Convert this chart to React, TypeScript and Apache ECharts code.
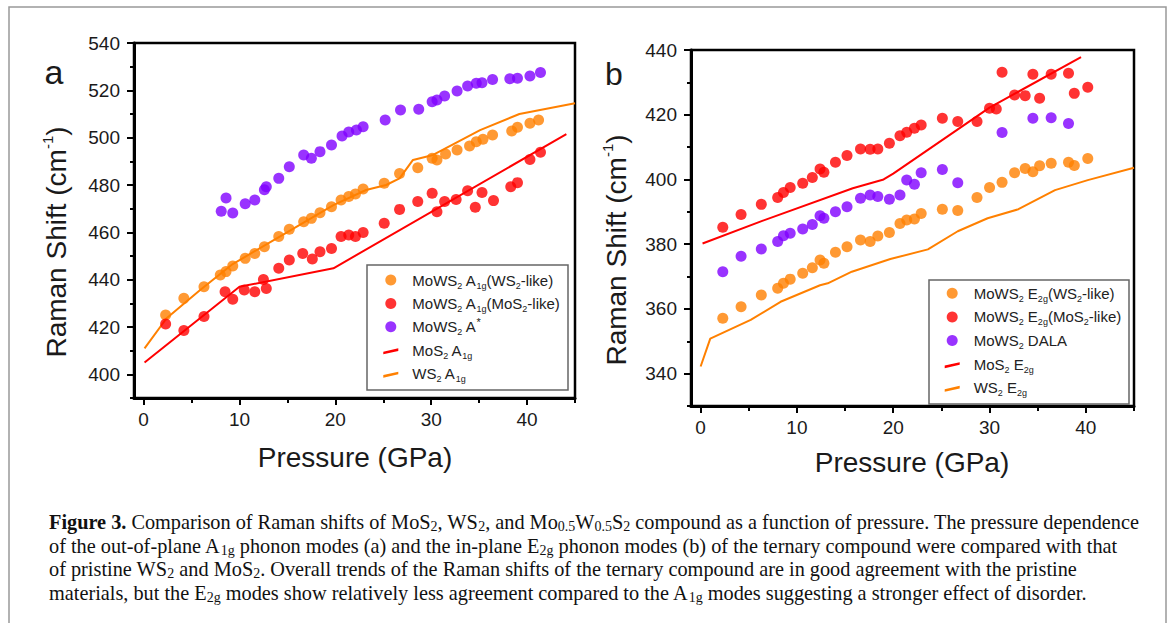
import React, { useEffect, useRef } from 'react';
import * as echarts from 'echarts';

// ---------- Panel (a): A1g modes ----------
const aWsLike: [number, number][] = [
  [2.3, 425.1], [4.2, 432.1], [6.3, 437.0], [8.0, 442.0], [8.6, 443.4], [9.3, 445.8], [10.6, 449.0],
  [11.6, 451.1], [12.6, 453.9], [14.1, 458.2], [15.2, 461.3], [16.7, 464.5], [17.5, 465.9], [18.4, 468.3],
  [19.6, 470.8], [20.6, 473.7], [21.4, 475.1], [22.1, 476.2], [22.9, 478.3], [25.1, 480.7], [26.7, 484.9],
  [28.6, 487.3], [30.1, 491.3], [30.6, 490.6], [31.5, 493.1], [32.7, 494.8], [34.0, 496.5], [34.7, 498.3],
  [35.4, 499.3], [36.4, 501.1], [38.4, 502.8], [39.0, 504.4], [40.3, 506.1], [41.2, 507.5],
];
const aMosLike: [number, number][] = [
  [2.3, 421.3], [4.2, 418.5], [6.3, 424.4], [8.5, 434.9], [9.3, 431.7], [10.5, 435.6], [11.6, 434.9],
  [12.5, 440.1], [12.8, 436.3], [14.1, 444.8], [15.2, 448.3], [16.6, 451.1], [17.6, 448.7], [18.4, 451.8],
  [19.6, 453.2], [20.6, 458.2], [21.4, 458.9], [22.1, 458.2], [22.9, 459.9], [25.1, 463.8], [26.7, 469.7],
  [28.6, 473.0], [30.1, 476.5], [30.6, 468.7], [31.4, 473.0], [32.6, 473.9], [33.8, 477.6], [34.6, 470.6],
  [35.3, 476.8], [36.5, 473.4], [38.3, 479.3], [39.0, 481.0], [40.3, 490.8], [41.4, 493.8],
];
const aAstar: [number, number][] = [
  [8.1, 468.9], [8.6, 474.5], [9.3, 468.2], [10.6, 472.1], [11.6, 473.7], [12.6, 478.0], [12.8, 479.3],
  [14.1, 482.8], [15.2, 487.7], [16.7, 492.7], [17.5, 491.3], [18.4, 494.1], [19.6, 496.9], [20.7, 500.7],
  [21.4, 502.4], [22.2, 503.2], [22.9, 504.6], [25.2, 507.5], [26.8, 511.7], [28.7, 512.0], [30.1, 515.2],
  [30.6, 515.9], [31.4, 517.6], [32.7, 519.7], [33.8, 521.8], [34.7, 523.0], [35.3, 523.2], [36.4, 524.6],
  [38.2, 524.9], [39.0, 525.1], [40.3, 526.1], [41.4, 527.5],
];
const aMoS2Line: [number, number][] = [[0.1, 405], [10, 437], [19.8, 444.8], [44.1, 501.5]];
const aWS2Line: [number, number][] = [
  [0.1, 411], [2.4, 423.7], [5.9, 435.6], [9.3, 446.6], [14.2, 458.2], [19.8, 471.5], [23.2, 477.9],
  [25.3, 480], [26.7, 482.8], [28.1, 490.6], [30.2, 492.7], [35.1, 503.2], [39.2, 510], [45, 514.5],
];

// ---------- Panel (b): E2g modes ----------
const bWsLike: [number, number][] = [
  [2.3, 357.1], [4.2, 360.7], [6.3, 364.3], [8.0, 366.4], [8.6, 367.9], [9.3, 369.2], [10.6, 371.0],
  [11.6, 372.7], [12.4, 375.1], [12.8, 374.1], [14.0, 377.5], [15.2, 379.2], [16.6, 381.3], [17.6, 380.8],
  [18.4, 382.5], [19.6, 383.6], [20.7, 386.4], [21.4, 387.5], [22.2, 387.8], [22.9, 389.5], [25.1, 390.8],
  [26.7, 390.4], [28.7, 394.4], [30.0, 397.5], [31.3, 399.1], [32.6, 402.1], [33.7, 403.4], [34.5, 402.4],
  [35.2, 404.2], [36.4, 405.0], [38.2, 405.3], [38.8, 404.3], [40.2, 406.5],
];
const bMosLike: [number, number][] = [
  [2.3, 385.2], [4.2, 389.2], [6.3, 392.3], [8.0, 394.4], [8.6, 396.0], [9.3, 397.5], [10.6, 398.8],
  [11.6, 400.6], [12.4, 403.2], [12.8, 402.2], [14.0, 405.3], [15.2, 407.4], [16.6, 409.4], [17.6, 409.3],
  [18.4, 409.4], [19.6, 411.2], [20.7, 413.5], [21.4, 414.6], [22.2, 415.8], [22.9, 416.8], [25.1, 418.9],
  [26.7, 417.9], [28.7, 417.9], [30.0, 422.0], [30.7, 421.8], [31.3, 433.1], [32.6, 426.1], [33.7, 425.9],
  [34.5, 432.5], [35.2, 425.1], [36.4, 432.5], [38.2, 432.8], [38.8, 426.6], [40.2, 428.5],
];
const bDala: [number, number][] = [
  [2.3, 371.5], [4.2, 376.3], [6.3, 378.5], [8.0, 380.8], [8.6, 382.6], [9.3, 383.4], [10.6, 384.7],
  [11.6, 386.1], [12.4, 388.8], [12.8, 388.0], [14.0, 390.0], [15.2, 391.6], [16.6, 394.2], [17.6, 395.2],
  [18.4, 394.7], [19.6, 393.9], [20.7, 395.2], [21.4, 399.8], [22.2, 398.5], [22.9, 402.1], [25.1, 403.1],
  [26.7, 399.0], [31.3, 414.5], [34.5, 418.9], [36.4, 419.1], [38.2, 417.3],
];
const bMoS2Line: [number, number][] = [
  [0.2, 380.2], [6.4, 387.2], [15.8, 397.3], [19, 400], [20, 401.8], [30, 422.2], [39.5, 437.8],
];
const bWS2Line: [number, number][] = [
  [0, 342.2], [1, 350.8], [5.2, 356.6], [8.3, 362.2], [12.4, 367.3], [13.2, 367.9], [15.7, 371.5],
  [19.7, 375.4], [23.6, 378.4], [26.7, 384], [29.8, 388], [33, 390.8], [36.8, 396.7], [40.2, 399.8], [45, 403.6],
];

// ---------- Ticks ----------
const xMajorTicks = [0, 10, 20, 30, 40];
const xMinorTicks = [5, 15, 25, 35, 45];
const aYMajor = [400, 420, 440, 460, 480, 500, 520, 540];
const aYMinor = [390, 410, 430, 450, 470, 490, 510, 530];
const bYMajor = [340, 360, 380, 400, 420, 440];
const bYMinor = [330, 350, 370, 390, 410, 430];

// ---------- Names ----------
const namesA = ['MoWS2 A1g(WS2-like)', 'MoWS2 A1g(MoS2-like)', 'MoWS2 A*', 'MoS2 A1g', 'WS2 A1g'];
const namesB = ['MoWS2 E2g(WS2-like)', 'MoWS2 E2g(MoS2-like)', 'MoWS2 DALA', 'MoS2 E2g', 'WS2 E2g'];
const richNames: Record<string, string> = {
  'MoWS2 A1g(WS2-like)': '{t|MoWS}{s|2}{t| A}{s|1g}{t|(WS}{s|2}{t|-like)}',
  'MoWS2 A1g(MoS2-like)': '{t|MoWS}{s|2}{t| A}{s|1g}{t|(MoS}{s|2}{t|-like)}',
  'MoWS2 A*': '{t|MoWS}{s|2}{t| A}{p|*}',
  'MoS2 A1g': '{t|MoS}{s|2}{t| A}{s|1g}',
  'WS2 A1g': '{t|WS}{s|2}{t| A}{s|1g}',
  'MoWS2 E2g(WS2-like)': '{t|MoWS}{s|2}{t| E}{s|2g}{t|(WS}{s|2}{t|-like)}',
  'MoWS2 E2g(MoS2-like)': '{t|MoWS}{s|2}{t| E}{s|2g}{t|(MoS}{s|2}{t|-like)}',
  'MoWS2 DALA': '{t|MoWS}{s|2}{t| DALA}',
  'MoS2 E2g': '{t|MoS}{s|2}{t| E}{s|2g}',
  'WS2 E2g': '{t|WS}{s|2}{t| E}{s|2g}',
};

const captionLines = [
  '{b|Figure 3.}{n| Comparison of Raman shifts of MoS}{s|2}{n|, WS}{s|2}{n|, and Mo}{s|0.5}{n|W}{s|0.5}{n|S}{s|2}{n| compound as a function of pressure. The pressure dependence}',
  '{n|of the out-of-plane A}{s|1g}{n| phonon modes (a) and the in-plane E}{s|2g}{n| phonon modes (b) of the ternary compound were compared with that}',
  '{n|of pristine WS}{s|2}{n| and MoS}{s|2}{n|. Overall trends of the Raman shifts of the ternary compound are in good agreement with the pristine}',
  '{n|materials, but the E}{s|2g}{n| modes show relatively less agreement compared to the A}{s|1g}{n| modes suggesting a stronger effect of disorder.}',
];

const ORANGE = '#FF8000';
const RED = '#FF0000';
const PURPLE = '#8000FF';
const FONT = "'Liberation Sans', Arial, sans-serif";
const SERIF = "'Liberation Serif', 'Times New Roman', serif";
const LINE_ICON = 'path://M9,7 L24,3.6 L24,6.2 L9,9.6 Z M0,0 L0.01,0 L0,0.01 Z M33,11 L32.99,11 L33,10.99 Z';

function xAxes(gridIndex: number) {
  return [
    {
      type: 'value', gridIndex, min: -1, max: 45, position: 'bottom',
      axisLine: { show: true, onZero: false, lineStyle: { color: '#000', width: 3 } },
      axisTick: { show: true, customValues: xMajorTicks, length: 7, lineStyle: { color: '#000', width: 2 } },
      axisLabel: { show: true, customValues: xMajorTicks, margin: 12, fontSize: 19, fontFamily: FONT, color: '#1a1a1a' },
      splitLine: { show: false },
    },
    {
      type: 'value', gridIndex, min: -1, max: 45, position: 'bottom',
      axisLine: { show: false, onZero: false },
      axisTick: { show: true, customValues: xMinorTicks, length: 5, lineStyle: { color: '#000', width: 2 } },
      axisLabel: { show: false },
      splitLine: { show: false },
    },
  ];
}

function yAxes(gridIndex: number, min: number, max: number, major: number[], minor: number[]) {
  return [
    {
      type: 'value', gridIndex, min, max, position: 'left',
      axisLine: { show: true, onZero: false, lineStyle: { color: '#000', width: 3 } },
      axisTick: { show: true, customValues: major, length: 7, lineStyle: { color: '#000', width: 2 } },
      axisLabel: { show: true, customValues: major, margin: 14, fontSize: 19, fontFamily: FONT, color: '#1a1a1a' },
      splitLine: { show: false },
    },
    {
      type: 'value', gridIndex, min, max, position: 'left',
      axisLine: { show: false, onZero: false },
      axisTick: { show: true, customValues: minor, length: 4, lineStyle: { color: '#000', width: 2 } },
      axisLabel: { show: false },
      splitLine: { show: false },
    },
  ];
}

function scatter(name: string, data: [number, number][], color: string, axis: number) {
  return {
    type: 'scatter', name, data, xAxisIndex: axis, yAxisIndex: axis,
    symbol: 'circle', symbolSize: 11, itemStyle: { color }, z: 3,
  };
}
function line(name: string, data: [number, number][], color: string, axis: number) {
  return {
    type: 'line', name, data, xAxisIndex: axis, yAxisIndex: axis,
    symbol: 'none', showSymbol: false, lineStyle: { color, width: 2 }, itemStyle: { color }, z: 2,
  };
}

function legend(names: string[], left: number, top: number, gap: number) {
  return {
    orient: 'vertical', left, top, padding: 0, itemWidth: 33, itemHeight: 11, itemGap: gap,
    selectedMode: false,
    itemStyle: { borderWidth: 0 },
    data: names.map((n, i) => (i < 3 ? { name: n, icon: 'circle' } : { name: n, icon: LINE_ICON })),
    formatter: (n: string) => richNames[n] || n,
    textStyle: {
      fontFamily: FONT, fontSize: 15, color: '#222', lineHeight: 20,
      rich: {
        t: { fontFamily: FONT, fontSize: 15, color: '#222', lineHeight: 20 },
        s: { fontFamily: FONT, fontSize: 9, color: '#222', lineHeight: 20, verticalAlign: 'bottom' },
        p: { fontFamily: FONT, fontSize: 11, color: '#222', lineHeight: 20, verticalAlign: 'top' },
      },
    },
  };
}

const titleRich = {
  n: { fontFamily: FONT, fontSize: 28, fill: '#1a1a1a', lineHeight: 32 },
  p: { fontFamily: FONT, fontSize: 15, fill: '#1a1a1a', lineHeight: 32, verticalAlign: 'top' },
};
const capRich = {
  n: { fontFamily: SERIF, fontSize: 20.3, fill: '#111', lineHeight: 23 },
  b: { fontFamily: SERIF, fontSize: 20.3, fill: '#111', lineHeight: 23, fontWeight: 'bold' },
  s: { fontFamily: SERIF, fontSize: 14, fill: '#111', lineHeight: 23, verticalAlign: 'bottom' },
};

export default function App() {
  const ref = useRef<HTMLDivElement>(null);
  useEffect(() => {
    if (!ref.current) return;
    const chart = echarts.init(ref.current, undefined, { renderer: 'svg' });
    const graphic: any[] = [
      { type: 'rect', shape: { x: 9, y: 7, width: 1157, height: 700 }, style: { fill: 'none', stroke: '#999', lineWidth: 1.5 }, silent: true },
      { type: 'rect', shape: { x: 367, y: 265, width: 201, height: 125 }, style: { fill: 'none', stroke: '#666', lineWidth: 1.5 }, silent: true },
      { type: 'rect', shape: { x: 929, y: 280, width: 200, height: 124 }, style: { fill: 'none', stroke: '#666', lineWidth: 1.5 }, silent: true },
      { type: 'text', x: 54, y: 72, style: { text: 'a', fontFamily: FONT, fontSize: 34, fill: '#1a1a1a', align: 'center', verticalAlign: 'middle' } },
      { type: 'text', x: 614, y: 74, style: { text: 'b', fontFamily: FONT, fontSize: 32, fill: '#1a1a1a', align: 'center', verticalAlign: 'middle' } },
      { type: 'text', x: 56, y: 242, rotation: Math.PI / 2, style: { text: '{n|Raman Shift (cm}{p|-1}{n|)}', rich: titleRich, align: 'center', verticalAlign: 'middle' } },
      { type: 'text', x: 616, y: 250, rotation: Math.PI / 2, style: { text: '{n|Raman Shift (cm}{p|-1}{n|)}', rich: titleRich, align: 'center', verticalAlign: 'middle' } },
      { type: 'text', x: 355, y: 457, style: { text: 'Pressure (GPa)', fontFamily: FONT, fontSize: 28, fill: '#1a1a1a', align: 'center', verticalAlign: 'middle' } },
      { type: 'text', x: 912, y: 462, style: { text: 'Pressure (GPa)', fontFamily: FONT, fontSize: 28, fill: '#1a1a1a', align: 'center', verticalAlign: 'middle' } },
    ];
    const capY = [522, 545.5, 569, 592.5];
    captionLines.forEach((t, i) => {
      graphic.push({ type: 'text', x: 49, y: capY[i], style: { text: t, rich: capRich, align: 'left', verticalAlign: 'middle' } });
    });

    chart.setOption({
      animation: false,
      backgroundColor: '#fff',
      grid: [
        { left: 134, top: 43, width: 441, height: 355, show: true, borderColor: '#000', borderWidth: 2.5, backgroundColor: 'transparent' },
        { left: 691, top: 50, width: 443, height: 356, show: true, borderColor: '#000', borderWidth: 2.5, backgroundColor: 'transparent' },
      ],
      xAxis: [...xAxes(0), ...xAxes(1)],
      yAxis: [...yAxes(0, 390, 540, aYMajor, aYMinor), ...yAxes(1, 330, 440, bYMajor, bYMinor)],
      legend: [legend(namesA, 374.3, 270, 3.4), legend(namesB, 935.7, 283.3, 3.6)],
      series: [
        line('MoS2 A1g', aMoS2Line, RED, 0),
        line('WS2 A1g', aWS2Line, ORANGE, 0),
        scatter('MoWS2 A1g(WS2-like)', aWsLike, ORANGE, 0),
        scatter('MoWS2 A1g(MoS2-like)', aMosLike, RED, 0),
        scatter('MoWS2 A*', aAstar, PURPLE, 0),
        line('MoS2 E2g', bMoS2Line, RED, 2),
        line('WS2 E2g', bWS2Line, ORANGE, 2),
        scatter('MoWS2 E2g(WS2-like)', bWsLike, ORANGE, 2),
        scatter('MoWS2 E2g(MoS2-like)', bMosLike, RED, 2),
        scatter('MoWS2 DALA', bDala, PURPLE, 2),
      ],
      graphic,
    });
    return () => chart.dispose();
  }, []);
  return <div ref={ref} style={{ position: 'absolute', left: 0, top: 0, width: 1171, height: 623, background: '#fff' }} />;
}
